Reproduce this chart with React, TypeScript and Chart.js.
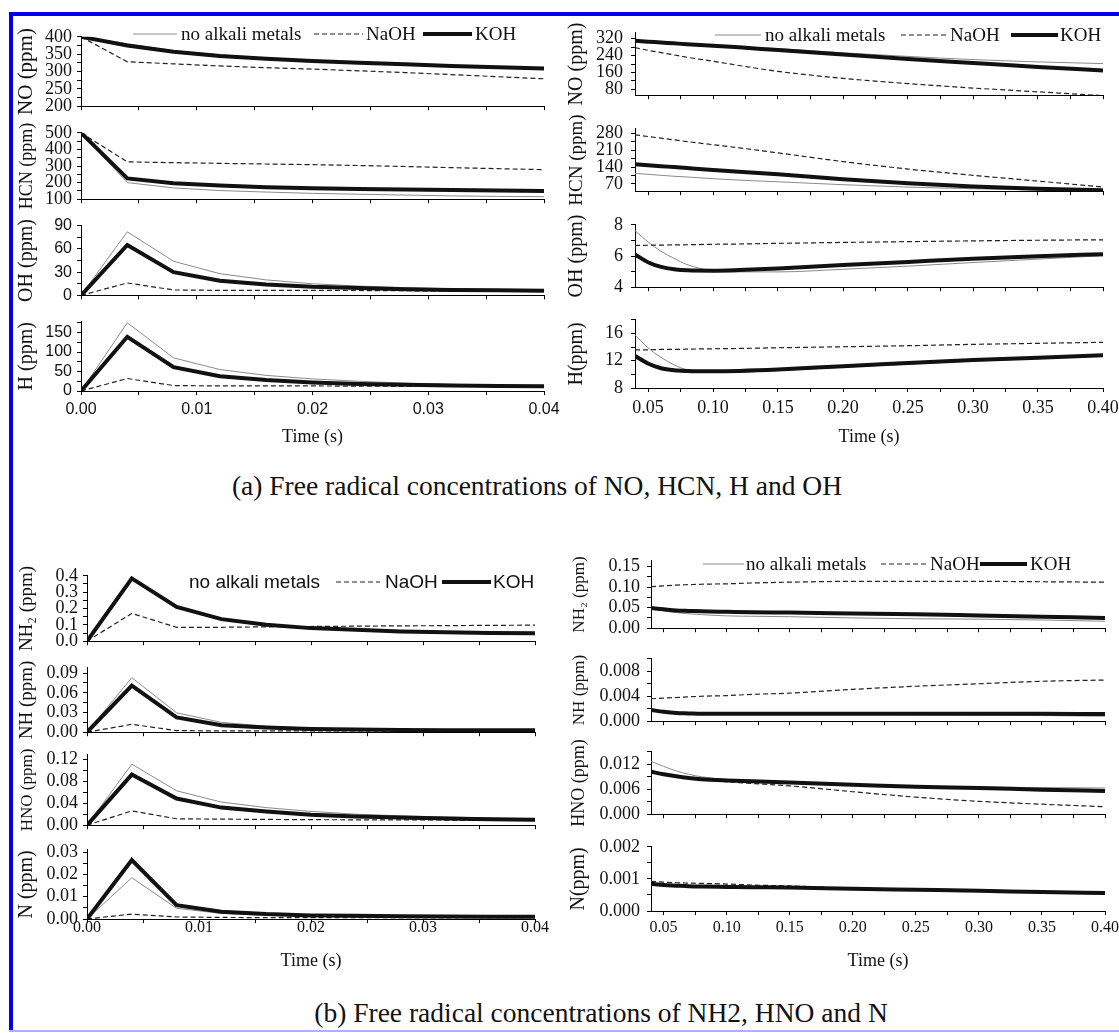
import React, { useEffect, useRef } from 'react';
import { Chart, registerables } from 'chart.js';

Chart.register(...registerables);

// ---------- data ----------
const SERIES_LABELS = ['no alkali metals', 'NaOH', 'KOH'];

const TIME_EARLY = [0, 0.004, 0.008, 0.012, 0.016, 0.02, 0.024, 0.028, 0.032, 0.036, 0.04];
const TIME_LATE = [0.04, 0.05, 0.06, 0.07, 0.08, 0.1, 0.12, 0.15, 0.2, 0.25, 0.3, 0.35, 0.4];
const TIME_EARLY_TICKS = [0, 0.01, 0.02, 0.03, 0.04];
const TIME_LATE_TICKS = [0.05, 0.1, 0.15, 0.2, 0.25, 0.3, 0.35, 0.4];

// (a) early
const NO_EARLY_NONE = [400, 380, 360, 348, 339, 332, 326, 321, 317, 313, 310];
const NO_EARLY_NAOH = [400, 328, 322, 316, 311, 307, 302, 297, 291, 285, 279];
const NO_EARLY_KOH = [400, 375, 357, 345, 337, 330, 325, 321, 316, 312, 309];
const HCN_EARLY_NONE = [500, 200, 168, 152, 143, 135, 130, 125, 120, 117, 115];
const HCN_EARLY_NAOH = [500, 325, 320, 316, 312, 308, 303, 297, 290, 284, 278];
const HCN_EARLY_KOH = [500, 225, 196, 182, 172, 166, 162, 158, 155, 152, 150];
const OH_EARLY_NONE = [0, 82, 44, 28, 20, 15, 12, 10, 8.5, 7.5, 7];
const OH_EARLY_NAOH = [0, 16, 7, 6.5, 6.5, 6.5, 6.3, 6, 5.8, 5.6, 5.5];
const OH_EARLY_KOH = [0, 65, 30, 19, 14, 11, 9.5, 8, 7, 6.5, 6];
const H_EARLY_NONE = [0, 175, 85, 55, 40, 31, 25, 20, 17, 15, 13];
const H_EARLY_NAOH = [0, 32, 14, 13, 13, 13, 12.5, 12, 12, 11.5, 11];
const H_EARLY_KOH = [0, 139, 61, 38, 28, 22, 18, 16, 14, 13, 12];

// (a) late
const NO_LATE_NONE = [311, 307, 303, 299, 296, 289, 282, 273, 253, 236, 221, 210, 202];
const NO_LATE_NAOH = [278, 265, 254, 243, 232, 213, 193, 165, 132, 107, 86, 68, 50];
const NO_LATE_KOH = [310, 306, 302, 298, 294, 287, 279, 266, 245, 224, 205, 186, 169];
const HCN_LATE_NONE = [114, 110, 106, 102, 99, 92, 86, 79, 67, 57, 50, 45, 42];
const HCN_LATE_NAOH = [274, 267, 260, 253, 246, 233, 220, 199, 163, 132, 106, 82, 57];
const HCN_LATE_KOH = [152, 148, 144, 140, 136, 128, 121, 110, 90, 73, 60, 50, 44];
const OH_LATE_NONE = [7.63, 6.9, 6.3, 5.85, 5.45, 5.05, 4.98, 4.98, 5.15, 5.35, 5.58, 5.8, 6.02];
const OH_LATE_NAOH = [6.67, 6.69, 6.7, 6.71, 6.72, 6.75, 6.77, 6.81, 6.87, 6.92, 6.97, 7.01, 7.04];
const OH_LATE_KOH = [6.1, 5.6, 5.3, 5.15, 5.08, 5.06, 5.1, 5.2, 5.42, 5.62, 5.82, 5.98, 6.12];
const H_LATE_NONE = [15.8, 13.9, 12.5, 11.4, 10.7, 10.45, 10.4, 10.55, 11.05, 11.5, 11.95, 12.3, 12.7];
const H_LATE_NAOH = [13.6, 13.6, 13.65, 13.65, 13.7, 13.75, 13.8, 13.9, 14.05, 14.2, 14.4, 14.55, 14.7];
const H_LATE_KOH = [12.7, 11.6, 10.9, 10.6, 10.5, 10.45, 10.5, 10.7, 11.2, 11.65, 12.1, 12.45, 12.8];

// (b) early
const NH2_EARLY_NONE = [0, 0.38, 0.215, 0.14, 0.1, 0.08, 0.068, 0.06, 0.055, 0.05, 0.047];
const NH2_EARLY_NAOH = [0, 0.17, 0.085, 0.085, 0.088, 0.09, 0.092, 0.094, 0.095, 0.097, 0.098];
const NH2_EARLY_KOH = [0, 0.384, 0.21, 0.135, 0.1, 0.08, 0.07, 0.06, 0.055, 0.05, 0.048];
const NH_EARLY_NONE = [0, 0.083, 0.0295, 0.015, 0.009, 0.006, 0.005, 0.004, 0.0035, 0.003, 0.003];
const NH_EARLY_NAOH = [0, 0.012, 0.0024, 0.002, 0.002, 0.002, 0.002, 0.002, 0.002, 0.002, 0.002];
const NH_EARLY_KOH = [0, 0.071, 0.0224, 0.0105, 0.007, 0.005, 0.004, 0.0035, 0.003, 0.003, 0.0028];
const HNO_EARLY_NONE = [0, 0.111, 0.0626, 0.042, 0.032, 0.025, 0.02, 0.017, 0.015, 0.013, 0.011];
const HNO_EARLY_NAOH = [0, 0.026, 0.0117, 0.011, 0.0105, 0.01, 0.0098, 0.0096, 0.0094, 0.0092, 0.009];
const HNO_EARLY_KOH = [0, 0.092, 0.0485, 0.032, 0.025, 0.019, 0.016, 0.014, 0.012, 0.011, 0.01];
const N_EARLY_NONE = [0, 0.0185, 0.0048, 0.0025, 0.0016, 0.0012, 0.001, 0.0009, 0.0008, 0.0008, 0.0008];
const N_EARLY_NAOH = [0, 0.0022, 0.0009, 0.0007, 0.0006, 0.0006, 0.0006, 0.0006, 0.0006, 0.0006, 0.0006];
const N_EARLY_KOH = [0, 0.0264, 0.0062, 0.0033, 0.0022, 0.0016, 0.0014, 0.0012, 0.0011, 0.001, 0.001];

// (b) late
const NH2_LATE_NONE = [0.049, 0.042, 0.038, 0.035, 0.033, 0.03, 0.029, 0.028, 0.025, 0.023, 0.022, 0.02, 0.017];
const NH2_LATE_NAOH = [0.101, 0.103, 0.105, 0.106, 0.107, 0.108, 0.11, 0.112, 0.114, 0.114, 0.114, 0.113, 0.112];
const NH2_LATE_KOH = [0.049, 0.046, 0.043, 0.042, 0.041, 0.04, 0.039, 0.038, 0.036, 0.034, 0.031, 0.028, 0.025];
const NH_LATE_NONE = [0.0018, 0.0014, 0.0012, 0.00115, 0.0011, 0.0011, 0.0011, 0.0011, 0.0011, 0.00105, 0.001, 0.0009, 0.0008];
const NH_LATE_NAOH = [0.0036, 0.0037, 0.0038, 0.0039, 0.004, 0.0041, 0.0043, 0.0045, 0.0051, 0.0056, 0.006, 0.0064, 0.0066];
const NH_LATE_KOH = [0.0018, 0.0015, 0.0013, 0.00125, 0.0012, 0.0012, 0.0012, 0.0012, 0.0012, 0.0012, 0.0012, 0.00118, 0.00115];
const HNO_LATE_NONE = [0.0127, 0.0115, 0.0104, 0.0096, 0.009, 0.0083, 0.008, 0.0076, 0.0071, 0.0067, 0.0065, 0.0064, 0.0063];
const HNO_LATE_NAOH = [0.0102, 0.0096, 0.0091, 0.0087, 0.0083, 0.0078, 0.0074, 0.0068, 0.0054, 0.0041, 0.0031, 0.0024, 0.0018];
const HNO_LATE_KOH = [0.0102, 0.0096, 0.0091, 0.0087, 0.0084, 0.0081, 0.0079, 0.0076, 0.0071, 0.0066, 0.0063, 0.0059, 0.0056];
const N_LATE_NONE = [0.00088, 0.00083, 0.0008, 0.00078, 0.00077, 0.00075, 0.00074, 0.00072, 0.00069, 0.00066, 0.00063, 0.00059, 0.00056];
const N_LATE_NAOH = [0.00092, 0.0009, 0.00088, 0.00087, 0.00086, 0.00084, 0.00081, 0.00078, 0.0007, 0.00066, 0.00063, 0.00059, 0.00056];
const N_LATE_KOH = [0.00085, 0.00081, 0.00079, 0.00077, 0.00076, 0.00075, 0.00074, 0.00073, 0.00069, 0.00066, 0.00063, 0.00059, 0.00056];

// y tick labels
const NO_EARLY_TICKS = [200, 250, 300, 350, 400];
const HCN_EARLY_TICKS = [100, 200, 300, 400, 500];
const OH_EARLY_TICKS = [0, 30, 60, 90];
const H_EARLY_TICKS = [0, 50, 100, 150];
const NO_LATE_TICKS = [80, 160, 240, 320];
const HCN_LATE_TICKS = [70, 140, 210, 280];
const OH_LATE_TICKS = [4, 6, 8];
const H_LATE_TICKS = [8, 12, 16];
const NH2_EARLY_TICKS = [0, 0.1, 0.2, 0.3, 0.4];
const NH_EARLY_TICKS = [0, 0.03, 0.06, 0.09];
const HNO_EARLY_TICKS = [0, 0.04, 0.08, 0.12];
const N_EARLY_TICKS = [0, 0.01, 0.02, 0.03];
const NH2_LATE_TICKS = [0, 0.05, 0.1, 0.15];
const NH_LATE_TICKS = [0, 0.004, 0.008];
const HNO_LATE_TICKS = [0, 0.006, 0.012];
const N_LATE_TICKS = [0, 0.001, 0.002];

const CAPTION_A = '(a) Free radical concentrations of NO, HCN, H and OH';
const CAPTION_B = '(b) Free radical concentrations of NH2, HNO and N';

// ---------- styles ----------
const SERIF = '"Liberation Serif", "Times New Roman", serif';
const SANS = '"Liberation Sans", Arial, sans-serif';
const STYLES = [
  { color: '#8a8a8a', width: 1, dash: [] as number[] },
  { color: '#222222', width: 1.2, dash: [5, 3] },
  { color: '#111111', width: 4, dash: [] as number[] },
];
const PAD_TOP = 14;
const PAD_RIGHT = 24;
const TICK_LEN = 4;

type LegendItem = { x0: number; x1: number; tx: number };
type LegendCfg = { y: number; lineY: number; family: string; size: number; items: LegendItem[] };

const LEGEND_A_LEFT: LegendCfg = { y: 35, lineY: 34, family: SERIF, size: 19, items: [
  { x0: 133, x1: 177, tx: 181 }, { x0: 314, x1: 363, tx: 366 }, { x0: 423, x1: 472, tx: 475 }] };
const LEGEND_A_RIGHT: LegendCfg = { y: 36, lineY: 35, family: SERIF, size: 19, items: [
  { x0: 715, x1: 761, tx: 765 }, { x0: 901, x1: 947, tx: 950 }, { x0: 1011, x1: 1058, tx: 1060 }] };
const LEGEND_B_LEFT: LegendCfg = { y: 583, lineY: 582, family: SANS, size: 19, items: [
  { x0: 0, x1: 0, tx: 189 }, { x0: 336, x1: 380, tx: 385 }, { x0: 442, x1: 491, tx: 493 }] };
const LEGEND_B_RIGHT: LegendCfg = { y: 565, lineY: 564, family: SERIF, size: 19, items: [
  { x0: 703, x1: 744, tx: 746 }, { x0: 881, x1: 927, tx: 930 }, { x0: 980, x1: 1027, tx: 1030 }] };

type BottomCfg = { family: string; size: number; labelY: number; titleY: number; titleSize: number };
type Panel = {
  id: string; title: string; titleSize: number; titleX: number;
  plot: [number, number, number, number];
  yMin: number; yMax: number; yTicks: number[]; yDec: number; yFamily: string; ySize: number; yPad: number;
  time: number[]; xTicks: number[]; xMin: number; xMax: number; smooth: boolean;
  series: number[][];
  bottom?: BottomCfg; legend?: LegendCfg;
};

const A_L = { titleX: 27, yPad: 5, time: TIME_EARLY, xTicks: TIME_EARLY_TICKS, xMin: 0, xMax: 0.04, smooth: false };
const A_R = { titleX: 577, yPad: 8, time: TIME_LATE, xTicks: TIME_LATE_TICKS, xMin: 0.04, xMax: 0.4, smooth: true };
const B_L = { titleX: 27, yPad: 5, time: TIME_EARLY, xTicks: TIME_EARLY_TICKS, xMin: 0, xMax: 0.04, smooth: false };
const B_R = { titleX: 579, yPad: 7, time: TIME_LATE, xTicks: TIME_LATE_TICKS, xMin: 0.04, xMax: 0.4, smooth: true };

const PANELS: Panel[] = [
  { ...A_L, id: 'no-e', title: 'NO (ppm)', titleSize: 21, plot: [81, 35, 544, 108], yMin: 200, yMax: 400, yTicks: NO_EARLY_TICKS, yDec: 0, yFamily: SERIF, ySize: 18,
    series: [NO_EARLY_NONE, NO_EARLY_NAOH, NO_EARLY_KOH], legend: LEGEND_A_LEFT },
  { ...A_L, id: 'hcn-e', title: 'HCN (ppm)', titleSize: 18, plot: [81, 131, 544, 201], yMin: 100, yMax: 500, yTicks: HCN_EARLY_TICKS, yDec: 0, yFamily: SERIF, ySize: 18,
    series: [HCN_EARLY_NONE, HCN_EARLY_NAOH, HCN_EARLY_KOH] },
  { ...A_L, id: 'oh-e', title: 'OH (ppm)', titleSize: 20, plot: [81, 225, 544, 296], yMin: 0, yMax: 90, yTicks: OH_EARLY_TICKS, yDec: 0, yFamily: SANS, ySize: 16,
    series: [OH_EARLY_NONE, OH_EARLY_NAOH, OH_EARLY_KOH] },
  { ...A_L, id: 'h-e', title: 'H (ppm)', titleSize: 20, plot: [81, 321, 544, 391], yMin: 0, yMax: 178, yTicks: H_EARLY_TICKS, yDec: 0, yFamily: SANS, ySize: 16,
    series: [H_EARLY_NONE, H_EARLY_NAOH, H_EARLY_KOH], bottom: { family: SANS, size: 16, labelY: 410, titleY: 437, titleSize: 18 } },

  { ...A_R, id: 'no-l', title: 'NO (ppm)', titleSize: 20, plot: [635, 28, 1103, 100], yMin: 52, yMax: 348, yTicks: NO_LATE_TICKS, yDec: 0, yFamily: SERIF, ySize: 18,
    series: [NO_LATE_NONE, NO_LATE_NAOH, NO_LATE_KOH], legend: LEGEND_A_RIGHT },
  { ...A_R, id: 'hcn-l', title: 'HCN (ppm)', titleSize: 19, plot: [635, 124, 1103, 196], yMin: 40, yMax: 299, yTicks: HCN_LATE_TICKS, yDec: 0, yFamily: SERIF, ySize: 18,
    series: [HCN_LATE_NONE, HCN_LATE_NAOH, HCN_LATE_KOH] },
  { ...A_R, id: 'oh-l', title: 'OH (ppm)', titleSize: 20, plot: [635, 220, 1103, 292], yMin: 4, yMax: 8, yTicks: OH_LATE_TICKS, yDec: 0, yFamily: SERIF, ySize: 18,
    series: [OH_LATE_NONE, OH_LATE_NAOH, OH_LATE_KOH] },
  { ...A_R, id: 'h-l', title: 'H(ppm)', titleSize: 20, plot: [635, 315, 1103, 388], yMin: 8, yMax: 18, yTicks: H_LATE_TICKS, yDec: 0, yFamily: SERIF, ySize: 18,
    series: [H_LATE_NONE, H_LATE_NAOH, H_LATE_KOH], bottom: { family: SERIF, size: 18, labelY: 408, titleY: 437, titleSize: 18 } },

  { ...B_L, id: 'nh2-e', title: 'NH\u2082 (ppm)', titleSize: 19, plot: [87, 574, 535, 643], yMin: 0, yMax: 0.4, yTicks: NH2_EARLY_TICKS, yDec: 1, yFamily: SERIF, ySize: 18,
    series: [NH2_EARLY_NONE, NH2_EARLY_NAOH, NH2_EARLY_KOH], legend: LEGEND_B_LEFT },
  { ...B_L, id: 'nh-e', title: 'NH (ppm)', titleSize: 19, plot: [87, 666, 535, 734], yMin: 0, yMax: 0.098, yTicks: NH_EARLY_TICKS, yDec: 2, yFamily: SERIF, ySize: 18,
    series: [NH_EARLY_NONE, NH_EARLY_NAOH, NH_EARLY_KOH] },
  { ...B_L, id: 'hno-e', title: 'HNO (ppm)', titleSize: 17, plot: [87, 753, 535, 827], yMin: 0, yMax: 0.128, yTicks: HNO_EARLY_TICKS, yDec: 2, yFamily: SERIF, ySize: 18,
    series: [HNO_EARLY_NONE, HNO_EARLY_NAOH, HNO_EARLY_KOH] },
  { ...B_L, id: 'n-e', title: 'N (ppm)', titleSize: 20, plot: [87, 848, 535, 919], yMin: 0, yMax: 0.031, yTicks: N_EARLY_TICKS, yDec: 2, yFamily: SERIF, ySize: 18,
    series: [N_EARLY_NONE, N_EARLY_NAOH, N_EARLY_KOH], bottom: { family: SERIF, size: 16, labelY: 928, titleY: 961, titleSize: 18 } },

  { ...B_R, id: 'nh2-l', title: 'NH\u2082 (ppm)', titleSize: 17, plot: [651, 557, 1105, 632], yMin: 0, yMax: 0.164, yTicks: NH2_LATE_TICKS, yDec: 2, yFamily: SERIF, ySize: 18,
    series: [NH2_LATE_NONE, NH2_LATE_NAOH, NH2_LATE_KOH], legend: LEGEND_B_RIGHT },
  { ...B_R, id: 'nh-l', title: 'NH (ppm)', titleSize: 17, plot: [651, 655, 1105, 725], yMin: 0, yMax: 0.01, yTicks: NH_LATE_TICKS, yDec: 3, yFamily: SERIF, ySize: 18,
    series: [NH_LATE_NONE, NH_LATE_NAOH, NH_LATE_KOH] },
  { ...B_R, id: 'hno-l', title: 'HNO (ppm)', titleSize: 18, plot: [651, 748, 1105, 818], yMin: 0, yMax: 0.015, yTicks: HNO_LATE_TICKS, yDec: 3, yFamily: SERIF, ySize: 18,
    series: [HNO_LATE_NONE, HNO_LATE_NAOH, HNO_LATE_KOH] },
  { ...B_R, id: 'n-l', title: 'N(ppm)', titleSize: 20, plot: [651, 843, 1105, 911], yMin: 0, yMax: 0.002, yTicks: N_LATE_TICKS, yDec: 3, yFamily: SERIF, ySize: 18,
    series: [N_LATE_NONE, N_LATE_NAOH, N_LATE_KOH], bottom: { family: SERIF, size: 16, labelY: 928, titleY: 961, titleSize: 18 } },
];

// ---------- helpers ----------
function withMinor(majors: number[], min: number, max: number): number[] {
  const step = (majors[1] - majors[0]) / 2;
  const out: number[] = [];
  const k = Math.floor((majors[0] - min) / step + 1e-9);
  let v = majors[0] - k * step;
  let i = 0;
  while (v <= max + step * 1e-6 && i < 200) {
    out.push(+v.toFixed(10));
    v += step;
    i++;
  }
  return out;
}

function isMajor(majors: number[], v: number): boolean {
  const step = Math.abs(majors[1] - majors[0]);
  return majors.some((m) => Math.abs(m - v) < step * 1e-4);
}

function layoutOf(p: Panel) {
  const left = Math.round(p.titleX - (p.titleSize * 1.2) / 2);
  const top = p.plot[1] - PAD_TOP;
  const right = p.plot[2] + PAD_RIGHT;
  const bottomEdge = p.bottom ? Math.round(p.bottom.titleY + (p.bottom.titleSize * 1.2) / 2) : p.plot[3] + 14;
  return {
    left, top, w: right - left, h: bottomEdge - top,
    yAxisW: p.plot[0] - left, xAxisH: bottomEdge - p.plot[3],
  };
}

function legendPlugin(L: LegendCfg, ox: number, oy: number) {
  return {
    id: 'seriesLegend',
    afterDraw(chart: any) {
      const ctx = chart.ctx as CanvasRenderingContext2D;
      ctx.save();
      ctx.translate(-ox, -oy);
      ctx.font = `${L.size}px ${L.family}`;
      ctx.textBaseline = 'middle';
      ctx.textAlign = 'left';
      L.items.forEach((it, i) => {
        const st = STYLES[i];
        if (it.x1 > it.x0) {
          ctx.beginPath();
          ctx.setLineDash(st.dash);
          ctx.lineWidth = st.width;
          ctx.strokeStyle = st.color;
          ctx.moveTo(it.x0, L.lineY);
          ctx.lineTo(it.x1, L.lineY);
          ctx.stroke();
        }
        ctx.setLineDash([]);
        ctx.fillStyle = '#111';
        ctx.fillText(SERIES_LABELS[i], it.tx, L.y);
      });
      ctx.restore();
    },
  };
}

function buildConfig(p: Panel, g: ReturnType<typeof layoutOf>) {
  const yVals = withMinor(p.yTicks, p.yMin, p.yMax);
  const xVals = withMinor(p.xTicks, p.xMin, p.xMax);
  const b = p.bottom;
  const xPad = b ? b.labelY - p.plot[3] - TICK_LEN - (b.size * 1.2) / 2 : 0;
  return {
    type: 'line',
    data: {
      datasets: p.series.map((vals, i) => ({
        label: SERIES_LABELS[i],
        data: p.time.map((t, j) => ({ x: t, y: vals[j] })),
        borderColor: STYLES[i].color,
        borderWidth: STYLES[i].width,
        borderDash: STYLES[i].dash,
        pointRadius: 0,
        fill: false,
        tension: 0,
        cubicInterpolationMode: p.smooth ? 'monotone' : 'default',
        order: 3 - i,
      })),
    },
    options: {
      responsive: false,
      animation: false,
      devicePixelRatio: 1,
      events: [],
      layout: { padding: { top: PAD_TOP, right: PAD_RIGHT, left: 0, bottom: 0 } },
      plugins: { legend: { display: false }, tooltip: { enabled: false }, title: { display: false } },
      scales: {
        x: {
          type: 'linear',
          min: p.xMin,
          max: p.xMax,
          afterBuildTicks: (s: any) => { s.ticks = xVals.map((v) => ({ value: v })); },
          afterFit: (s: any) => { s.height = g.xAxisH; },
          ticks: {
            display: !!b,
            autoSkip: false,
            maxRotation: 0,
            minRotation: 0,
            padding: xPad,
            color: '#111',
            font: { family: b ? b.family : SERIF, size: b ? b.size : 16, lineHeight: 1.2 },
            callback: (v: number) => (isMajor(p.xTicks, v) ? v.toFixed(2) : ''),
          },
          grid: { drawOnChartArea: false, drawTicks: true, tickLength: TICK_LEN, color: '#000', tickWidth: 1 },
          border: { display: true, color: '#000', width: 1 },
          title: {
            display: !!b,
            text: 'Time (s)',
            color: '#111',
            padding: 0,
            font: { family: SERIF, size: b ? b.titleSize : 18, lineHeight: 1.2 },
          },
        },
        y: {
          type: 'linear',
          min: p.yMin,
          max: p.yMax,
          afterBuildTicks: (s: any) => { s.ticks = yVals.map((v) => ({ value: v })); },
          afterFit: (s: any) => { s.width = g.yAxisW; },
          ticks: {
            autoSkip: false,
            padding: p.yPad,
            color: '#111',
            font: { family: p.yFamily, size: p.ySize, lineHeight: 1.2 },
            callback: (v: number) => (isMajor(p.yTicks, v) ? v.toFixed(p.yDec) : ''),
          },
          grid: { drawOnChartArea: false, drawTicks: true, tickLength: TICK_LEN, color: '#000', tickWidth: 1 },
          border: { display: true, color: '#000', width: 1 },
          title: {
            display: true,
            text: p.title,
            color: '#111',
            padding: 0,
            font: { family: SERIF, size: p.titleSize, lineHeight: 1.2 },
          },
        },
      },
    },
    plugins: p.legend ? [legendPlugin(p.legend, g.left, g.top)] : [],
  };
}

function PanelCanvas({ p }: { p: Panel }) {
  const ref = useRef<HTMLCanvasElement | null>(null);
  const g = layoutOf(p);
  useEffect(() => {
    if (!ref.current) return;
    const chart = new Chart(ref.current, buildConfig(p, g) as any);
    return () => chart.destroy();
  }, []);
  return (
    <canvas
      ref={ref}
      width={g.w}
      height={g.h}
      style={{ position: 'absolute', left: g.left, top: g.top, width: g.w, height: g.h }}
    />
  );
}

function Caption({ text, cx, cy }: { text: string; cx: number; cy: number }) {
  return (
    <div
      style={{
        position: 'absolute', left: cx - 450, top: cy - 16, width: 900, height: 32, lineHeight: '32px',
        textAlign: 'center', fontFamily: SERIF, fontSize: 27.5, color: '#111', whiteSpace: 'nowrap',
      }}
    >
      {text}
    </div>
  );
}

export default function App() {
  return (
    <div
      style={{
        position: 'absolute', left: 0, top: 0, width: 1119, height: 1033, background: '#fff', overflow: 'hidden',
      }}
    >
      <div style={{ position: 'absolute', left: 9, top: 12, width: 1110, height: 4, background: '#0000ee' }} />
      <div style={{ position: 'absolute', left: 9, top: 12, width: 4, height: 1019, background: '#0000ee' }} />
      <div style={{ position: 'absolute', left: 9, top: 1030, width: 1110, height: 2, background: '#a9b3f5' }} />
      {PANELS.map((p) => (
        <PanelCanvas key={p.id} p={p} />
      ))}
      <Caption text={CAPTION_A} cx={537} cy={486} />
      <Caption text={CAPTION_B} cx={601} cy={1013} />
    </div>
  );
}
